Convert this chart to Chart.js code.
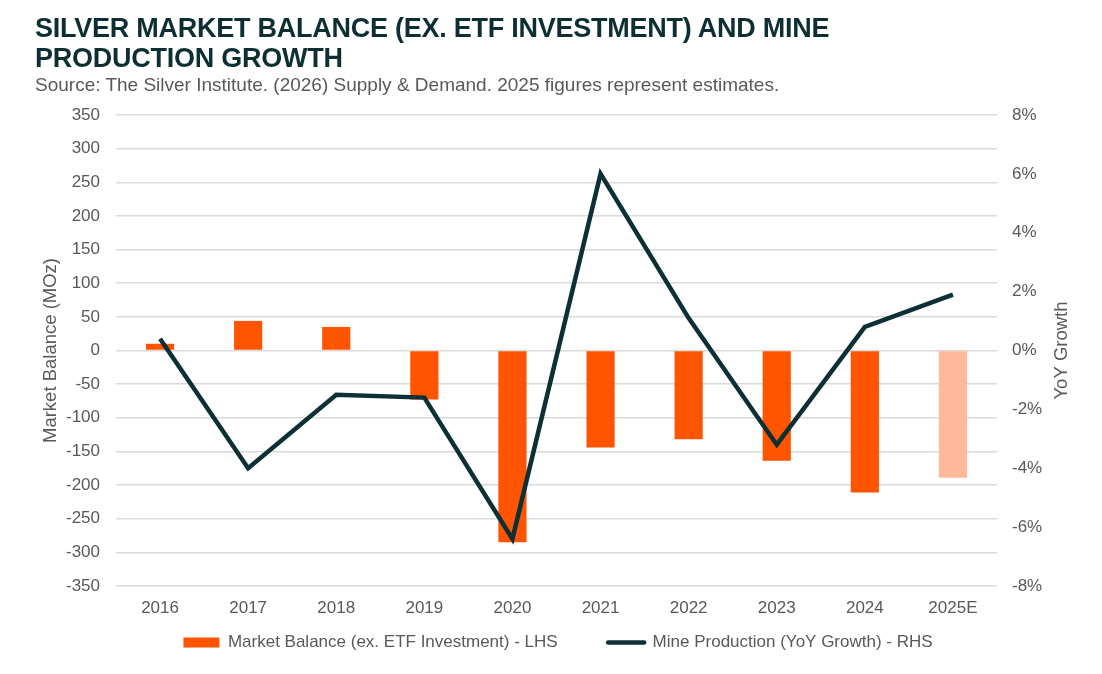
<!DOCTYPE html>
<html>
<head>
<meta charset="utf-8">
<script src="https://cdn.jsdelivr.net/npm/chart.js@4.4.1/dist/chart.umd.min.js"></script>
<style>
  html, body { margin: 0; padding: 0; background: #fff; }
  #wrap { position: relative; width: 1102px; height: 674px; overflow: hidden; }
  #title { position: absolute; left: 35px; top: 13px; font-family: "Liberation Sans", Arial, sans-serif; font-weight: bold; font-size: 27px; line-height: 30px; letter-spacing: -0.25px; color: #0d2f33; white-space: nowrap; }
  #sub { position: absolute; left: 35px; top: 74px; font-family: "Liberation Sans", Arial, sans-serif; font-size: 19px; color: #595959; white-space: nowrap; }
  canvas { position: absolute; left: 0; top: 0; }
</style>
</head>
<body>
<div id="wrap">
  <canvas id="chart" width="1102" height="674"></canvas>
  <div id="title">SILVER MARKET BALANCE (EX. ETF INVESTMENT) AND MINE<br>PRODUCTION GROWTH</div>
  <div id="sub">Source: The Silver Institute. (2026) Supply &amp; Demand. 2025 figures represent estimates.</div>
</div>
<script>
const years = ['2016', '2017', '2018', '2019', '2020', '2021', '2022', '2023', '2024', '2025E'];
const balance = [10, 44, 35, -73, -285, -144, -132, -164, -211, -189];
const growth = [0.4, -4.0, -1.5, -1.6, -6.4, 6.0, 1.1, -3.2, 0.8, 1.9];
const barColors = ['#ff5500', '#ff5500', '#ff5500', '#ff5500', '#ff5500', '#ff5500', '#ff5500', '#ff5500', '#ff5500', '#fdb999'];

const grey = '#595959';
const lineColor = '#0c3035';
const font = "'Liberation Sans', Arial, sans-serif";

// right axis title reads bottom-to-top, chart.js would turn it the other way
const rightTitle = {
  id: 'rightTitle',
  afterDraw(chart) {
    const ctx = chart.ctx;
    const area = chart.chartArea;
    ctx.save();
    ctx.translate(1062, (area.top + area.bottom) / 2);
    ctx.rotate(-Math.PI / 2);
    ctx.font = '18.5px ' + font;
    ctx.fillStyle = grey;
    ctx.textAlign = 'center';
    ctx.textBaseline = 'middle';
    ctx.fillText('YoY Growth', 0, 0);
    ctx.restore();
  }
};

new Chart(document.getElementById('chart'), {
  data: {
    labels: years,
    datasets: [{
      type: 'bar',
      label: 'Market Balance (ex. ETF Investment) - LHS',
      data: balance,
      backgroundColor: barColors,
      yAxisID: 'y',
      categoryPercentage: 1,
      barPercentage: 0.32,
      order: 1
    }, {
      type: 'line',
      label: 'Mine Production (YoY Growth) - RHS',
      data: growth,
      borderColor: lineColor,
      backgroundColor: lineColor,
      borderWidth: 4.5,
      pointRadius: 0,
      tension: 0,
      yAxisID: 'y1',
      order: 0
    }]
  },
  options: {
    responsive: false,
    animation: false,
    layout: { padding: { top: 115, left: 14, right: 0, bottom: 13 } },
    plugins: {
      tooltip: { enabled: false },
      legend: {
        position: 'bottom',
        labels: {
          color: grey,
          font: { size: 17, family: font },
          usePointStyle: true,
          pointStyleWidth: 36,
          boxHeight: 10,
          padding: 8,
          generateLabels(chart) {
            const items = Chart.defaults.plugins.legend.labels.generateLabels(chart);
            items.sort((a, b) => a.datasetIndex - b.datasetIndex);
            items.forEach(it => {
              if (it.datasetIndex === 0) {
                it.pointStyle = 'rect';
                it.fillStyle = '#ff5500';
                it.strokeStyle = '#ff5500';
                it.lineWidth = 0;
                // wider gap to the next item without extra vertical padding
                it.text = it.text + '         ';
              } else {
                it.pointStyle = 'line';
                it.strokeStyle = lineColor;
                it.lineWidth = 4.5;
                it.lineCap = 'round';
              }
            });
            return items;
          }
        }
      }
    },
    scales: {
      x: {
        grid: { display: false },
        border: { display: false },
        ticks: { color: grey, font: { size: 17, family: font }, padding: 4 },
        afterFit(s) { s.height = 40; }
      },
      y: {
        position: 'left',
        min: -350,
        max: 350,
        ticks: { stepSize: 50, color: grey, font: { size: 17, family: font }, padding: 16 },
        grid: { color: '#d9d9d9', lineWidth: 1.5, drawTicks: false },
        border: { display: false },
        title: { display: true, text: 'Market Balance (MOz)', color: grey, font: { size: 18.5, family: font }, padding: { top: 26 } },
        afterFit(s) { s.width = 102; }
      },
      y1: {
        position: 'right',
        min: -8,
        max: 8,
        ticks: { stepSize: 2, color: grey, font: { size: 17, family: font }, padding: 15, callback: v => v + '%' },
        grid: { display: false, drawTicks: false },
        border: { display: false },
        afterFit(s) { s.width = 105; }
      }
    }
  },
  plugins: [rightTitle]
});
</script>
</body>
</html>
